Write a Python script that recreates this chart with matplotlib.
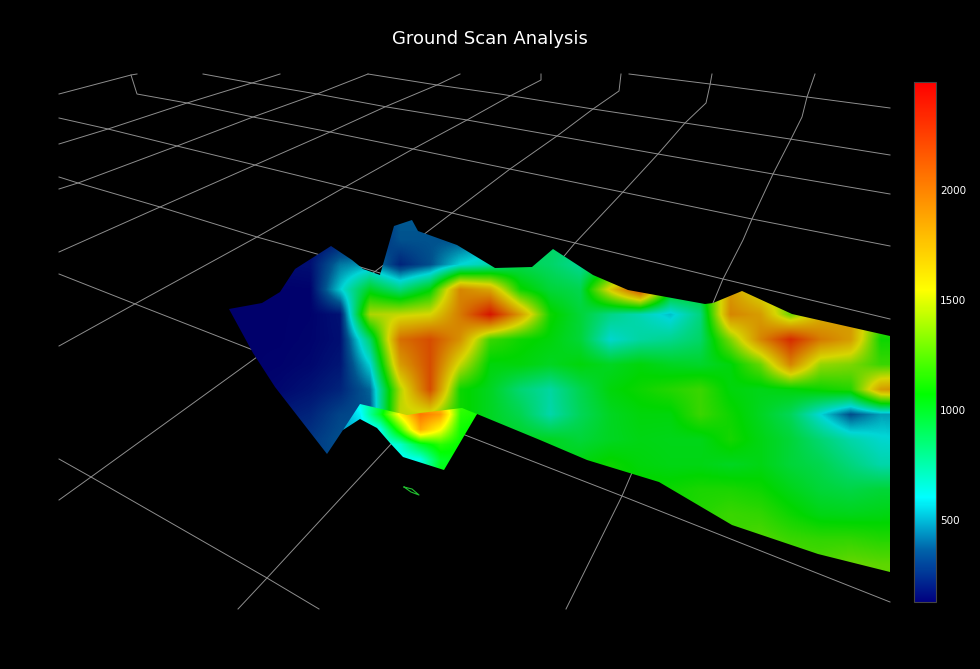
import numpy as np
import matplotlib
matplotlib.use('Agg')
import matplotlib.pyplot as plt
from matplotlib.cm import ScalarMappable
from matplotlib.colors import LinearSegmentedColormap, Normalize
from matplotlib.patches import Polygon

# --- DATA ---
TITLE = 'Ground Scan Analysis'
VALUE_MIN = 127
VALUE_MAX = 2491
COLORBAR_TICKS = [500, 1000, 1500, 2000]

COLOR_STOPS = [0.0, 0.1, 0.2, 0.4, 0.6, 0.8, 1.0]
COLOR_LIST = ['#000080', '#0064aa', '#00ffff', '#00ff00', '#ffff00', '#ff8000', '#ff0000']

# ground grid, one polyline per line
GRID_ACROSS = [
    [(629, 74), (710, 84), (807, 97), (890, 108)],
    [(368, 74), (437, 85), (500, 94), (593, 109), (685, 123), (790, 139), (890, 155)],
    [(203, 74), (252, 83), (317, 94), (387, 107), (467, 120), (557, 136), (658, 154), (773, 174), (890, 194)],
    [(131, 75), (137, 94), (187, 103), (253, 117), (330, 132), (413, 149), (500, 167), (622, 192), (752, 219), (890, 246)],
    [(59, 118), (108, 129), (177, 146), (255, 165), (345, 187), (452, 213), (575, 243), (645, 260), (723, 279), (890, 319)],
    [(59, 177), (78, 183), (160, 207), (257, 237), (317, 254), (400, 279)],
    [(59, 274), (125, 300), (253, 350), (465, 435), (622, 496), (890, 602)],
    [(59, 459), (91, 477), (267, 578), (319, 609)],
]
GRID_ALONG = [
    [(59, 94), (131, 75), (137, 74)],
    [(59, 144), (108, 129), (187, 103), (252, 83), (280, 74)],
    [(59, 189), (78, 183), (177, 146), (253, 117), (317, 94), (368, 74)],
    [(59, 252), (160, 207), (255, 165), (330, 132), (387, 106), (437, 85), (460, 74)],
    [(59, 346), (142, 300), (257, 237), (345, 187), (413, 149), (467, 120), (510, 96), (541, 80), (541, 74)],
    [(59, 500), (91, 477), (257, 357), (373, 273), (452, 213), (510, 169), (557, 136), (593, 109), (619, 91), (621, 74)],
    [(238, 609), (267, 578), (340, 499), (392, 443), (565, 255), (575, 243), (623, 192), (658, 154), (685, 123), (706, 103), (710, 85), (712, 74)],
    [(566, 609), (622, 496), (631, 475), (713, 303), (723, 279), (743, 240), (752, 219), (773, 174), (791, 139), (802, 117), (807, 97), (815, 74)],
]

# main sheet of the surface
SCAN_X = [220, 250, 280, 310, 340, 370, 400, 430, 460, 490, 520, 550, 580, 610, 640, 670, 700, 730, 760, 790, 820, 850, 880, 910]
SCAN_Y = [215, 240, 265, 290, 315, 340, 365, 390, 415, 440, 465, 490, 515, 540, 565, 590]
SCAN_VALUE = [
    [130, 130, 130, 150, 170, 200, 380, 380, 400, 500, 700, 850, 850, 850, 900, 1000, 1000, 1000, 1000, 1100, 1100, 1100, 1100, 1100],
    [130, 130, 130, 150, 180, 220, 360, 360, 350, 450, 750, 850, 800, 800, 900, 1000, 1000, 1000, 1000, 1100, 1100, 1100, 1100, 1100],
    [130, 130, 160, 170, 430, 500, 230, 350, 600, 700, 900, 850, 750, 900, 1000, 1000, 1000, 1200, 1300, 1300, 1300, 1300, 1300, 1300],
    [130, 130, 130, 135, 580, 1000, 800, 1050, 1900, 1750, 1100, 950, 900, 1600, 2200, 1100, 1000, 1800, 1500, 1300, 1200, 1300, 1300, 1200],
    [130, 130, 130, 135, 180, 1450, 1500, 1550, 1950, 2400, 1800, 1100, 950, 780, 680, 560, 800, 1900, 1800, 1300, 1700, 1800, 1300, 1200],
    [130, 130, 130, 140, 170, 850, 2000, 2150, 1850, 1200, 1100, 1050, 950, 620, 720, 760, 850, 1350, 1900, 2300, 1950, 1800, 1100, 1100],
    [130, 130, 135, 150, 190, 600, 1800, 2150, 1500, 1050, 1050, 1000, 1050, 1000, 1050, 1000, 980, 1050, 1300, 1900, 1400, 1350, 1200, 1200],
    [130, 130, 150, 180, 230, 400, 1450, 2150, 1100, 1000, 820, 720, 900, 1050, 1100, 1150, 1200, 1050, 1020, 1050, 1100, 1150, 1800, 1900],
    [130, 200, 200, 230, 320, 350, 1500, 1500, 1100, 1000, 900, 700, 880, 1000, 1050, 1050, 1200, 1100, 1000, 880, 600, 350, 500, 500],
    [130, 200, 250, 280, 350, 400, 1000, 1000, 1000, 1000, 1000, 1000, 950, 1000, 1030, 1020, 1020, 1120, 1030, 950, 820, 700, 620, 600],
    [130, 200, 250, 300, 350, 400, 1000, 1000, 1000, 1000, 1000, 1000, 1050, 1100, 1050, 1030, 1030, 1000, 1030, 950, 900, 800, 700, 700],
    [130, 200, 250, 300, 350, 400, 1000, 1000, 1000, 1000, 1000, 1000, 1050, 1100, 1100, 1100, 1130, 1130, 1100, 1020, 950, 920, 950, 950],
    [130, 200, 250, 300, 350, 400, 1000, 1000, 1000, 1000, 1000, 1000, 1050, 1100, 1100, 1100, 1150, 1200, 1180, 1100, 1030, 1020, 1030, 1050],
    [130, 200, 250, 300, 350, 400, 1000, 1000, 1000, 1000, 1000, 1000, 1050, 1100, 1100, 1100, 1150, 1200, 1250, 1200, 1180, 1180, 1150, 1150],
    [130, 200, 250, 300, 350, 400, 1000, 1000, 1000, 1000, 1000, 1000, 1050, 1100, 1100, 1100, 1150, 1200, 1250, 1250, 1250, 1300, 1280, 1280],
    [130, 200, 250, 300, 350, 400, 1000, 1000, 1000, 1000, 1000, 1000, 1050, 1100, 1100, 1100, 1150, 1200, 1250, 1250, 1250, 1300, 1300, 1300],
]
SCAN_OUTLINE = [
    (229, 309), (262, 303), (280, 292), (295, 269), (331, 246), (352, 260), (363, 269), (380, 275),
    (394, 226), (412, 220), (418, 231), (457, 245), (495, 268), (532, 267), (553, 249), (593, 275),
    (628, 290), (705, 304), (713, 303), (742, 291), (792, 314), (890, 336), (890, 572), (818, 554),
    (732, 525), (659, 482), (587, 460), (540, 440), (477, 414), (450, 440), (385, 420), (360, 412), (343, 430),
    (327, 454), (275, 387), (253, 353),
]

# front fold hanging in front of the main sheet
FOLD_X = [340, 360, 380, 400, 420, 440, 460, 480]
FOLD_Y = [400, 415, 430, 445, 460, 475]
FOLD_VALUE = [
    [480, 650, 900, 1300, 1700, 1600, 1200, 1100],
    [450, 580, 1000, 1600, 2050, 1900, 1150, 1100],
    [450, 520, 650, 1200, 1850, 1550, 1100, 1050],
    [450, 520, 600, 700, 1000, 1150, 1080, 1050],
    [450, 520, 600, 600, 650, 1000, 1050, 1050],
    [450, 520, 600, 600, 650, 1050, 1050, 1050],
]
FOLD_OUTLINE = [
    (360, 404), (407, 415), (420, 413), (462, 408), (477, 414), (444, 470), (403, 457),
    (390, 443), (377, 428), (360, 419), (343, 430),
]

SLIVER = [(404, 487), (412, 489), (419, 495), (411, 492), (404, 487)]

# --- COLOURS ---
cmap = LinearSegmentedColormap.from_list('scan', list(zip(COLOR_STOPS, COLOR_LIST)), N=512)
# the lit surface comes out a bit darker than the colorbar
shaded = cmap(np.linspace(0, 1, 512))
shaded[:, :3] *= 0.84
shaded_cmap = LinearSegmentedColormap.from_list('scan_shaded', shaded, N=512)
norm = Normalize(VALUE_MIN, VALUE_MAX)


def draw_sheet(ax, xs, ys, values, outline, sheet_cmap, zorder):
    # bilinear in data space so the rainbow bands show between the nodes
    dx = (xs[1] - xs[0]) / 2
    dy = (ys[1] - ys[0]) / 2
    im = ax.imshow(np.array(values, dtype=float), cmap=sheet_cmap, norm=norm, aspect='auto',
                   origin='upper', interpolation='bilinear', interpolation_stage='data',
                   extent=(xs[0] - dx, xs[-1] + dx, ys[-1] + dy, ys[0] - dy), zorder=zorder)
    clip = Polygon(outline, closed=True, transform=ax.transData, fc='none', ec='none')
    ax.add_patch(clip)
    im.set_clip_path(clip)
    return im


fig = plt.figure(figsize=(9.8, 6.69), dpi=100, facecolor='black')
ax = fig.add_axes([0, 0, 1, 1], facecolor='black')

for line in GRID_ACROSS + GRID_ALONG:
    pts = np.array(line)
    ax.plot(pts[:, 0], pts[:, 1], color='#8e8e8e', lw=0.7, zorder=1)

draw_sheet(ax, SCAN_X, SCAN_Y, SCAN_VALUE, SCAN_OUTLINE, shaded_cmap, 2)
draw_sheet(ax, FOLD_X, FOLD_Y, FOLD_VALUE, FOLD_OUTLINE, cmap, 3)

sliver = np.array(SLIVER)
ax.plot(sliver[:, 0], sliver[:, 1], color='#22c030', lw=0.8, zorder=2)

ax.set_xlim(0, 980)
ax.set_ylim(669, 0)
ax.axis('off')

fig.text(0.5, 1 - 39 / 669, TITLE, color='white', fontsize=13, ha='center', va='center',
         family='DejaVu Sans')

# colorbar
cax = fig.add_axes([914 / 980, 1 - 602 / 669, 22 / 980, 520 / 669])
cb = fig.colorbar(ScalarMappable(norm=norm, cmap=cmap), cax=cax)
cb.set_ticks(COLORBAR_TICKS)
cb.ax.tick_params(length=0, labelcolor='white', labelsize=7.5, pad=3)
cb.outline.set_edgecolor('#444444')
cb.outline.set_linewidth(0.8)

fig.savefig('out.png', dpi=100, facecolor='black')
